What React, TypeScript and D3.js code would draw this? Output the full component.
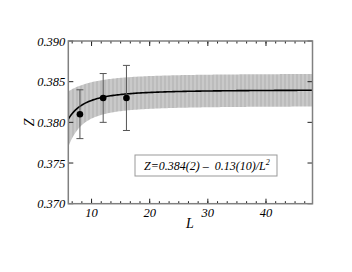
import React from 'react';
import * as d3 from 'd3';

// measured points
const sizes = [8, 12, 16];
const zValues = [0.381, 0.383, 0.383];
const zErrors = [0.003, 0.003, 0.004];

// fit Z = a - b/L^2 (from the legend)
const fitA = 0.384;
const fitAErr = 0.002;
const fitB = 0.13;
const fitBErr = 0.10;

const xTicks = [10, 20, 30, 40];
const yTicks = [0.370, 0.375, 0.380, 0.385, 0.390];

export default function App() {
  const width = 352;
  const height = 272;
  const margin = { top: 41, right: 39.5, bottom: 68.3, left: 68.3 };

  const x = d3.scaleLinear().domain([6, 48]).range([margin.left, width - margin.right]);
  const y = d3.scaleLinear().domain([0.370, 0.390]).range([height - margin.bottom, margin.top]);

  // sample L along the axis for the fit curve and its error band
  const ls = d3.range(6, 48.01, 0.25);
  const fit = (l: number) => fitA - fitB / (l * l);
  const err = (l: number) => Math.sqrt(fitAErr * fitAErr + (fitBErr / (l * l)) ** 2);

  const band = d3.area<number>()
    .x(l => x(l))
    .y0(l => y(fit(l) - err(l)))
    .y1(l => y(fit(l) + err(l)));
  const line = d3.line<number>().x(l => x(l)).y(l => y(fit(l)));

  // minor ticks: 5 per major interval on x
  const minorX = d3.range(-2, 23).map(k => 10 + k * 10 / 6).filter(v => v >= 6 && v <= 48);

  const x0 = x.range()[0], x1 = x.range()[1];
  const y0 = y.range()[0], y1 = y.range()[1];
  const font = '"Liberation Serif", "DejaVu Serif", serif';

  return (
    <svg width={width} height={height} style={{ position: 'absolute', left: 0, top: 0, background: '#fff' }}>
      <defs>
        <pattern id="hatch" width="4" height="4" patternUnits="userSpaceOnUse">
          <rect width="4" height="4" fill="#bcbcbc" />
          <rect x="2.5" width="1" height="4" fill="#d6d6d6" />
        </pattern>
        <clipPath id="plot">
          <rect x={x0} y={y1} width={x1 - x0} height={y0 - y1} />
        </clipPath>
      </defs>

      <g clipPath="url(#plot)">
        <path d={band(ls) || ''} fill="url(#hatch)" />
        <path d={line(ls) || ''} fill="none" stroke="#000" strokeWidth={1.6} />
      </g>

      {sizes.map((l, i) => (
        <g key={l} stroke="#555" strokeWidth={1}>
          <line x1={x(l)} x2={x(l)} y1={y(zValues[i] - zErrors[i])} y2={y(zValues[i] + zErrors[i])} />
          <line x1={x(l) - 3.5} x2={x(l) + 3.5} y1={y(zValues[i] - zErrors[i])} y2={y(zValues[i] - zErrors[i])} />
          <line x1={x(l) - 3.5} x2={x(l) + 3.5} y1={y(zValues[i] + zErrors[i])} y2={y(zValues[i] + zErrors[i])} />
          <circle cx={x(l)} cy={y(zValues[i])} r={3.3} fill="#000" stroke="none" />
        </g>
      ))}

      {/* ticks */}
      <g stroke="#222" strokeWidth={1}>
        {minorX.map(v => (
          <g key={'m' + v}>
            <line x1={x(v)} x2={x(v)} y1={y0} y2={y0 - 2.5} />
            <line x1={x(v)} x2={x(v)} y1={y1} y2={y1 + 2.5} />
          </g>
        ))}
        {xTicks.map(v => (
          <g key={'x' + v}>
            <line x1={x(v)} x2={x(v)} y1={y0} y2={y0 - 5} />
            <line x1={x(v)} x2={x(v)} y1={y1} y2={y1 + 5} />
          </g>
        ))}
        {yTicks.map(v => (
          <g key={'y' + v}>
            <line x1={x0} x2={x0 + 5} y1={y(v)} y2={y(v)} />
            <line x1={x1} x2={x1 - 5} y1={y(v)} y2={y(v)} />
          </g>
        ))}
      </g>

      <rect x={x0} y={y1} width={x1 - x0} height={y0 - y1} fill="none" stroke="#808080" strokeWidth={1.5} />

      <g fontFamily={font} fontStyle="italic" fontSize={12.5} fill="#000">
        {xTicks.map(v => (
          <text key={'xl' + v} x={x(v)} y={y0 + 13} textAnchor="middle">{v}</text>
        ))}
        {yTicks.map(v => (
          <text key={'yl' + v} x={x0 - 3} y={y(v) + 4.5} textAnchor="end">{d3.format('.3f')(v)}</text>
        ))}
      </g>

      <text x={190} y={228} fontFamily={font} fontStyle="italic" fontSize={14} textAnchor="middle">L</text>
      <text transform={`translate(34,${y(0.380)}) rotate(-90)`} fontFamily={font} fontStyle="italic" fontSize={14} textAnchor="middle">Z</text>

      <rect x={135} y={155} width={142} height={21} fill="#fff" stroke="#999" strokeWidth={1} />
      <text x={144} y={170} fontFamily={font} fontStyle="italic" fontSize={12} xmlSpace="preserve">
        {'Z=0.384(2) \u2013  0.13(10)/L'}
        <tspan dy={-5.5} fontSize={8}>2</tspan>
      </text>
    </svg>
  );
}
